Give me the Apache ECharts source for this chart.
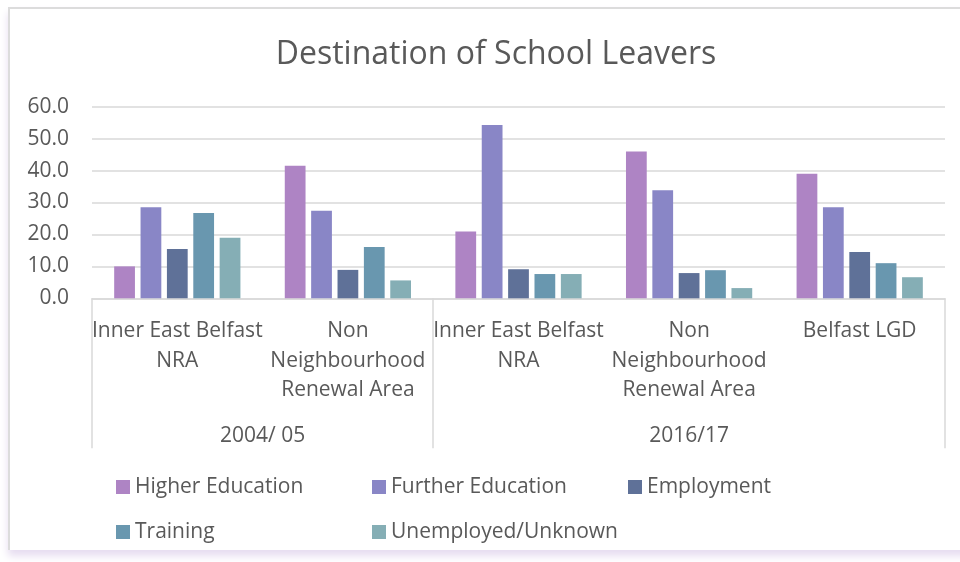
<!DOCTYPE html>
<html>
<head>
<meta charset="utf-8">
<title>Destination of School Leavers</title>
<script src="https://cdn.jsdelivr.net/npm/echarts@6/dist/echarts.min.js"></script>
<style>
  html, body { margin: 0; padding: 0; background: #fff; overflow: hidden; }
  #frame {
    position: absolute; left: 8px; top: 7px; width: 970px; height: 541px;
    border-top: 2px solid #dcdcdc; border-left: 2px solid #dcdcdc;
    box-shadow: 0 6px 8px #e6dcf0;
  }
  #main { position: absolute; left: 0; top: 0; width: 960px; height: 562px; }
</style>
</head>
<body>
<div id="frame"></div>
<div id="main"></div>
<script>
// categories (two-level axis: area within year)
var areas = [
  "Inner East Belfast\nNRA",
  "Non\nNeighbourhood\nRenewal Area",
  "Inner East Belfast\nNRA",
  "Non\nNeighbourhood\nRenewal Area",
  "Belfast LGD"
];
var years = ["2004/ 05", "2016/17"];
var areasPerYear = [2, 3];

// series values (%)
var higherEducation = [10.0, 41.5, 20.9, 46.0, 39.0];
var furtherEducation = [28.5, 27.4, 54.3, 33.8, 28.5];
var employment = [15.4, 8.9, 9.1, 7.9, 14.5];
var training = [26.7, 16.1, 7.6, 8.8, 11.0];
var unemployedUnknown = [19.0, 5.6, 7.6, 3.2, 6.6];

var yTicks = { min: 0, max: 60, interval: 10 };

var font = "Open Sans";
var textColor = "#595959";
var lineColor = "#d9d9d9";

// year axis: half-category slots, year label sits in the middle of its span
var slotCount = areas.length * 2;
var yearSlots = [];
for (var i = 0; i <= slotCount; i++) yearSlots.push("");
var boundarySlots = [0];
var start = 0;
years.forEach(function (y, k) {
  var span = areasPerYear[k] * 2;
  yearSlots[start + span / 2] = y;
  start += span;
  boundarySlots.push(start);
});

var myChart = echarts.init(document.getElementById("main"));
myChart.setOption({
  backgroundColor: "transparent",
  textStyle: { fontFamily: font },
  title: {
    text: "Destination of School Leavers",
    left: 491,
    textAlign: "center",
    top: 34,
    textStyle: { fontFamily: font, fontSize: 32, fontWeight: "normal", color: textColor }
  },
  color: ["#ae84c4", "#8986c6", "#5f7198", "#6997af", "#85aeb5"],
  grid: { left: 92, right: 15, top: 106.7, bottom: 263.7, containLabel: false },
  legend: {
    left: 116,
    top: 472,
    width: 790,
    padding: 0,
    itemWidth: 14,
    itemHeight: 14,
    itemGap: 15,
    icon: "rect",
    textStyle: { fontFamily: font, fontSize: 21, color: textColor, width: 222, lineHeight: 30 }
  },
  xAxis: [
    {
      type: "category",
      data: areas,
      axisLine: { lineStyle: { color: lineColor, width: 1.5 } },
      axisTick: { show: false },
      axisLabel: {
        interval: 0,
        margin: 18,
        fontFamily: font,
        fontSize: 21,
        lineHeight: 29.5,
        color: textColor
      }
    },
    {
      type: "category",
      data: yearSlots,
      position: "bottom",
      boundaryGap: false,
      axisLine: { show: false },
      axisTick: {
        show: true,
        length: 150,
        interval: function (idx) { return boundarySlots.indexOf(idx) >= 0; },
        lineStyle: { color: lineColor, width: 1.5 }
      },
      axisLabel: {
        interval: function (idx, v) { return v !== ""; },
        margin: 126,
        fontFamily: font,
        fontSize: 21,
        lineHeight: 24,
        color: textColor
      }
    }
  ],
  yAxis: {
    type: "value",
    min: yTicks.min,
    max: yTicks.max,
    interval: yTicks.interval,
    axisLine: { show: false },
    axisTick: { show: false },
    splitLine: { lineStyle: { color: lineColor, width: 1.5 } },
    axisLabel: {
      margin: 23,
      fontFamily: font,
      fontSize: 21,
      color: textColor,
      formatter: function (v) { return v.toFixed(1); }
    }
  },
  series: [
    { name: "Higher Education", type: "bar", data: higherEducation, barGap: "27%", barCategoryGap: "26%" },
    { name: "Further Education", type: "bar", data: furtherEducation },
    { name: "Employment", type: "bar", data: employment },
    { name: "Training", type: "bar", data: training },
    { name: "Unemployed/Unknown", type: "bar", data: unemployedUnknown }
  ]
});
</script>
</body>
</html>
